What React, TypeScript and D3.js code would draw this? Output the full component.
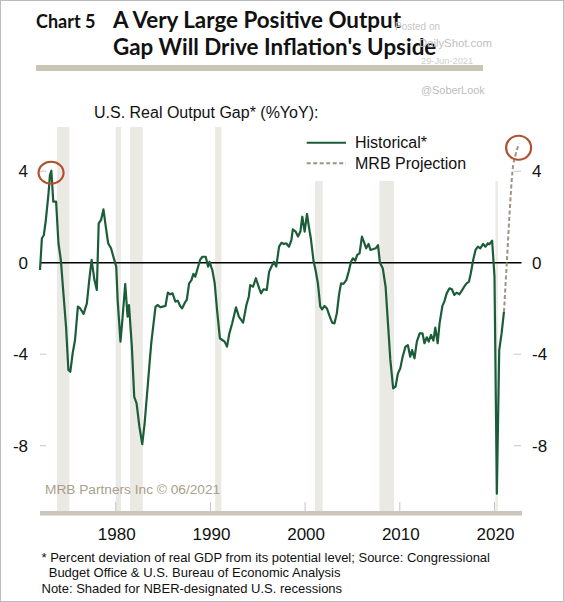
import React from "react";
import * as d3 from "d3";

const histYears = [
  1972.0, 1972.2, 1972.4, 1972.6, 1972.9, 1973.05, 1973.2, 1973.4, 1973.7, 1973.95,
  1974.2, 1974.5, 1974.75, 1975.0, 1975.2, 1975.45, 1975.7, 1976.0, 1976.25, 1976.6,
  1976.95, 1977.2, 1977.45, 1977.75, 1978.0, 1978.2, 1978.45, 1978.7, 1978.95, 1979.2,
  1979.5, 1979.8, 1980.05, 1980.2, 1980.5, 1980.7, 1981.0, 1981.25, 1981.4, 1981.7,
  1981.95, 1982.2, 1982.5, 1982.8, 1983.05, 1983.4, 1983.6, 1983.75, 1984.2, 1984.45,
  1984.7, 1984.95, 1985.25, 1985.5, 1985.75, 1986.0, 1986.3, 1986.55, 1986.8, 1987.0,
  1987.3, 1987.5, 1987.75, 1988.0, 1988.2, 1988.4, 1988.6, 1988.9, 1989.15, 1989.5,
  1989.75, 1989.9, 1990.2, 1990.45, 1990.7, 1991.0, 1991.25, 1991.5, 1991.75, 1992.0,
  1992.3, 1992.7, 1993.0, 1993.45, 1993.8, 1994.05, 1994.2, 1994.5, 1994.8, 1995.15,
  1995.35, 1995.6, 1995.95, 1996.2, 1996.45, 1996.7, 1996.95, 1997.25, 1997.5, 1997.75,
  1998.0, 1998.3, 1998.55, 1998.7, 1999.0, 1999.25, 1999.5, 1999.7, 1999.95, 2000.2,
  2000.4, 2000.6, 2000.9, 2001.1, 2001.35, 2001.6, 2001.8, 2002.05, 2002.3, 2002.55,
  2002.85, 2003.1, 2003.35, 2003.6, 2003.8, 2004.05, 2004.35, 2004.6, 2004.85, 2005.05,
  2005.3, 2005.5, 2005.75, 2006.0, 2006.2, 2006.45, 2006.7, 2006.9, 2007.15, 2007.45,
  2007.7, 2007.9, 2008.2, 2008.5, 2008.75, 2009.0, 2009.3, 2009.55, 2009.8, 2010.05,
  2010.3, 2010.6, 2010.85, 2011.1, 2011.3, 2011.55, 2011.8, 2012.1, 2012.4, 2012.6,
  2012.85, 2013.05, 2013.3, 2013.55, 2013.75, 2014.0, 2014.2, 2014.5, 2014.7, 2014.95,
  2015.25, 2015.5, 2015.75, 2016.0, 2016.3, 2016.6, 2016.8, 2017.05, 2017.3, 2017.5,
  2017.75, 2018.0, 2018.25, 2018.5, 2018.8, 2019.05, 2019.3, 2019.45, 2019.75, 2020.0,
  2020.25, 2020.5, 2020.75, 2021.0,
];

const histValues = [
  -0.32, 1.07, 1.2, 1.8, 3.03, 3.83, 4.02, 2.67, 2.67, 0.85,
  0.12, -1.49, -2.8, -4.69, -4.77, -3.96, -3.38, -1.92, -2.0, -2.24,
  -1.78, -0.76, 0.12, -0.76, -1.19, 1.72, 1.87, 2.33, 1.57, 0.85,
  0.63, 0.19, -0.17, -1.63, -3.45, -2.5, -0.93, -2.36, -1.85, -3.67,
  -5.86, -6.15, -7.17, -7.93, -7.02, -5.27, -4.25, -3.52, -1.92, -1.85,
  -1.95, -1.92, -1.89, -1.31, -1.38, -1.34, -1.7, -1.66, -1.89, -2.0,
  -1.75, -1.63, -0.9, -0.76, -0.49, -0.61, -0.32, 0.12, 0.26, 0.26,
  -0.17, 0.04, -0.32, -0.9, -2.07, -3.31, -3.38, -3.45, -3.67, -3.09,
  -2.65, -1.95, -2.36, -2.62, -1.85, -1.49, -0.98, -1.05, -0.68, -1.12,
  -1.34, -1.16, -1.19, -0.39, -0.17, 0.04, -0.17, 0.7, 0.87, 0.82,
  0.85, 0.7, 0.99, 1.46, 1.36, 1.14, 1.36, 2.01, 1.36, 2.13,
  1.57, 1.07, 0.04, -0.32, -0.9, -1.92, -2.04, -1.89, -2.0, -2.29,
  -2.62, -2.65, -2.21, -1.34, -0.9, -0.93, -0.76, -0.39, 0.04, 0.19,
  0.09, 0.34, 0.41, 1.14, 0.92, 0.63, 0.82, 0.56, 0.59, 0.63,
  0.77, 0.0, -0.24, -1.05, -2.65, -4.25, -5.49, -5.42, -4.84, -4.62,
  -4.11, -3.67, -3.6, -4.11, -3.82, -4.18, -3.45, -3.09, -3.09, -3.52,
  -3.26, -3.45, -3.16, -3.41, -2.84, -3.52, -2.65, -1.89, -1.7, -1.34,
  -1.12, -1.16, -1.41, -1.31, -1.38, -1.19, -1.05, -0.9, -0.83, -0.46,
  0.12, 0.56, 0.7, 0.63, 0.82, 0.7, 0.85, 0.8, 0.96, -0.6,
  -10.1, -3.82, -3.09, -2.15,
];

const projYears = [2021.0, 2021.3, 2021.6, 2021.9, 2022.25, 2022.6];
const projValues = [-2.15, 0.0, 2.2, 4.0, 4.75, 5.2];

const recessionStarts = [1973.8, 1980.0, 1981.5, 1990.5, 2001.05, 2007.85, 2020.1];
const recessionEnds = [1975.1, 1980.55, 1982.85, 1991.15, 2001.85, 2009.4, 2020.35];

const xTickYears = [1980, 1990, 2000, 2010, 2020];
const yTickValues = [4, 0, -4, -8];

const titleLabel = "Chart 5";
const titleLines = ["A Very Large Positive Output", "Gap Will Drive Inflation's Upside"];
const subtitle = "U.S. Real Output Gap* (%YoY):";
const legendLabels = ["Historical*", "MRB Projection"];
const sourceNote = "MRB Partners Inc © 06/2021";
const footnotes = [
  "* Percent deviation of real GDP from its potential level; Source: Congressional",
  "  Budget Office & U.S. Bureau of Economic Analysis",
  "Note: Shaded for NBER-designated U.S. recessions",
];
const watermark = ["Posted on", "DailyShot.com", "29-Jun-2021", "@SoberLook"];

const GREEN = "#1b5d39";
const DASH = "#9d9383";
const SHADE = "#ebe9e4";
const CIRCLE = "#b24f2c";
const SANS = "'Liberation Sans', Arial, sans-serif";
const TITLE_FONT = "Lato, 'Open Sans', sans-serif";

export default function App() {
  const W = 564;
  const H = 602;
  const x = d3.scaleLinear().domain([1972, 2022.8]).range([40, 521]);
  const y = d3.scaleLinear().domain([-8, 4]).range([445.7, 171.2]);

  const hist = histYears.map((yr, i) => [yr, histValues[i]] as [number, number]);
  const proj = projYears.map((yr, i) => [yr, projValues[i]] as [number, number]);

  const line = d3
    .line<[number, number]>()
    .x((d) => x(d[0]))
    .y((d) => y(d[1]));
  const projLine = d3
    .line<[number, number]>()
    .x((d) => x(d[0]))
    .y((d) => y(d[1]))
    .curve(d3.curveMonotoneX);

  const plotTop = 127;
  const axisY = 513;
  const legendBottom = 181;
  const peakIdx = histValues.indexOf(d3.max(histValues) as number);
  const lastProj = proj[proj.length - 1];

  return (
    <svg
      width={W}
      height={H}
      style={{ position: "absolute", left: 0, top: 0, background: "#fff" }}
    >
      <rect x={0} y={0} width={W} height={H} fill="#fff" />
      <rect x={0.5} y={0.5} width={W - 1} height={H - 1} fill="none" stroke="#bcbcbc" />

      {/* Title */}
      <text x={36} y={28} fontFamily={TITLE_FONT} fontWeight={700} fontSize={18} fill="#111">
        {titleLabel}
      </text>
      {titleLines.map((t, i) => (
        <text
          key={t}
          x={113}
          y={28 + i * 27}
          fontFamily={TITLE_FONT}
          fontWeight={700}
          fontSize={22.4}
          fill="#111"
        >
          {t}
        </text>
      ))}
      <rect x={36} y={65} width={447} height={6} fill="#cbc5b6" />

      {/* Watermark */}
      <text x={395} y={30} fontFamily={SANS} fontSize={10} fill="#c6c6c6">
        {watermark[0]}
      </text>
      <text x={419} y={47} fontFamily={SANS} fontSize={11.3} fill="#c0c0c0">
        {watermark[1]}
      </text>
      <text x={421} y={63.5} fontFamily={SANS} fontSize={9.3} fill="#cfcfcf">
        {watermark[2]}
      </text>
      <text x={421} y={94} fontFamily={SANS} fontSize={10.9} fill="#bdbdbd">
        {watermark[3]}
      </text>

      {/* Subtitle */}
      <text x={94} y={117.5} fontFamily={SANS} fontSize={16} fill="#111">
        {subtitle}
      </text>

      {/* Recession shading */}
      {recessionStarts.map((s, i) => (
        <rect
          key={s}
          x={x(s)}
          y={plotTop}
          width={x(recessionEnds[i]) - x(s)}
          height={axisY - plotTop}
          fill={SHADE}
        />
      ))}
      {/* legend background */}
      <rect x={300} y={plotTop} width={221} height={legendBottom - plotTop} fill="#fff" />

      {/* Y ticks */}
      {yTickValues.map((v) => (
        <g key={v}>
          <line x1={40} x2={46} y1={y(v)} y2={y(v)} stroke="#c4c4c4" strokeWidth={1} />
          <line x1={514} x2={521} y1={y(v)} y2={y(v)} stroke="#c4c4c4" strokeWidth={1} />
          <text
            x={28}
            y={y(v) + 6}
            textAnchor="end"
            fontFamily={SANS}
            fontSize={17}
            fill="#111"
          >
            {v}
          </text>
          <text x={532} y={y(v) + 6} fontFamily={SANS} fontSize={17} fill="#111">
            {v}
          </text>
        </g>
      ))}

      {/* Zero line */}
      <line x1={40} x2={521.5} y1={y(0)} y2={y(0)} stroke="#000" strokeWidth={1.5} />

      {/* X axis */}
      {xTickYears.map((yr) => (
        <g key={yr}>
          <line x1={x(yr)} x2={x(yr)} y1={502} y2={axisY} stroke="#c4c4c4" strokeWidth={1} />
          <text
            x={x(yr) + 1}
            y={540}
            textAnchor="middle"
            fontFamily={SANS}
            fontSize={17}
            fill="#111"
          >
            {yr}
          </text>
        </g>
      ))}
      <rect x={40} y={axisY - 2} width={482} height={4.5} fill="#cbc6bb" />

      {/* Lines */}
      <path
        d={projLine(proj) || ""}
        fill="none"
        stroke={DASH}
        strokeWidth={2}
        strokeDasharray="4,2.5"
      />
      <path
        d={line(hist) || ""}
        fill="none"
        stroke={GREEN}
        strokeWidth={2.2}
        strokeLinejoin="round"
      />

      {/* Circles */}
      <ellipse
        cx={x(hist[peakIdx][0]) - 0.3}
        cy={y(hist[peakIdx][1]) + 2}
        rx={12.5}
        ry={11}
        fill="none"
        stroke={CIRCLE}
        strokeWidth={2.2}
      />
      <ellipse
        cx={x(lastProj[0]) - 0.5}
        cy={y(lastProj[1]) + 4}
        rx={12.5}
        ry={12}
        fill="none"
        stroke={CIRCLE}
        strokeWidth={2.2}
      />

      {/* Legend */}
      <line x1={306.7} x2={346} y1={142.7} y2={142.7} stroke={GREEN} strokeWidth={2} />
      <text x={355} y={148.3} fontFamily={SANS} fontSize={16} fill="#111">
        {legendLabels[0]}
      </text>
      <line
        x1={306.7}
        x2={346}
        y1={163.3}
        y2={163.3}
        stroke={DASH}
        strokeWidth={2}
        strokeDasharray="4,2.5"
      />
      <text x={355} y={169} fontFamily={SANS} fontSize={16} fill="#111">
        {legendLabels[1]}
      </text>

      {/* Source note */}
      <text x={45} y={494} fontFamily={SANS} fontSize={13.7} fill="#a99f8c">
        {sourceNote}
      </text>

      {/* Footnotes */}
      {footnotes.map((t, i) => (
        <text
          key={i}
          x={41.5}
          y={561.5 + i * 15.8}
          fontFamily={SANS}
          fontSize={13}
          fill="#111"
          style={{ whiteSpace: "pre" }}
        >
          {t}
        </text>
      ))}
    </svg>
  );
}
